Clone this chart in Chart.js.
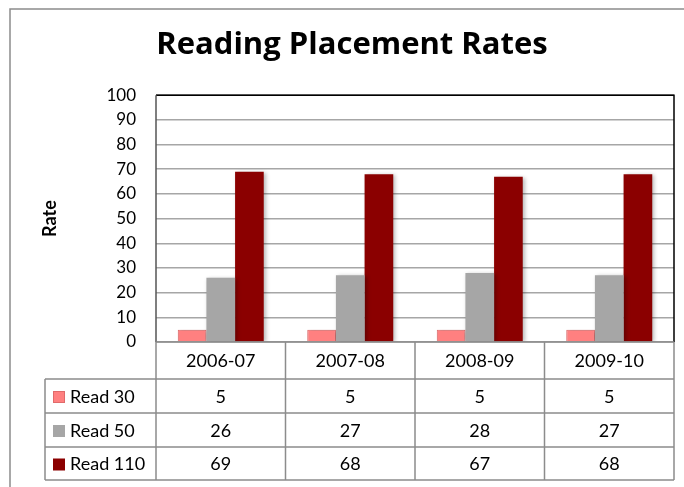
<!DOCTYPE html>
<html>
<head>
<meta charset="utf-8">
<script src="https://cdn.jsdelivr.net/npm/chart.js@4.4.0/dist/chart.umd.min.js"></script>
<style>
  html, body { margin: 0; padding: 0; background: #fff; }
  #wrap { width: 684px; height: 487px; position: relative; }
</style>
</head>
<body>
<div id="wrap"><canvas id="chart" width="684" height="487"></canvas></div>
<script>
// Data
const years = ['2006-07', '2007-08', '2008-09', '2009-10'];
const read30 = [5, 5, 5, 5];
const read50 = [26, 27, 28, 27];
const read110 = [69, 68, 67, 68];
const seriesNames = ['Read 30', 'Read 50', 'Read 110'];
const yTicks = [0, 10, 20, 30, 40, 50, 60, 70, 80, 90, 100];

const FONT = 'Lato, "Open Sans", sans-serif';
const fills = ['#FF8080', '#A6A6A6', '#8B0000'];
const borders = ['#E06A6A', '#A6A6A6', '#8B0000'];
const tableBottom = 480;   // bottom of the data table
const legendLeft = 45;     // left edge of the series-name column

// Outer chart frame + white background
const framePlugin = {
  id: 'frame',
  beforeDraw(chart) {
    const ctx = chart.ctx;
    ctx.save();
    ctx.fillStyle = '#fff';
    ctx.fillRect(0, 0, chart.width, chart.height);
    ctx.strokeStyle = '#8C8C8C';
    ctx.lineWidth = 1.5;
    ctx.strokeRect(10, 9, 800, 600);
    ctx.restore();
  }
};

// Soft shadow under the bars, like the Excel original
const shadowPlugin = {
  id: 'barShadow',
  beforeDatasetsDraw(chart) {
    const ctx = chart.ctx;
    ctx.save();
    ctx.shadowColor = 'rgba(0,0,0,0.28)';
    ctx.shadowBlur = 4;
    ctx.shadowOffsetX = 2;
    ctx.shadowOffsetY = 1;
  },
  afterDatasetsDraw(chart) {
    chart.ctx.restore();
  }
};

// Plot border and data table underneath the plot
const tablePlugin = {
  id: 'dataTable',
  afterDraw(chart) {
    const ctx = chart.ctx;
    const area = chart.chartArea;
    const x = chart.scales.x;
    const half = (x.getPixelForValue(1) - x.getPixelForValue(0)) / 2;
    const rowTops = [area.bottom, 379, 413, 447, tableBottom];

    ctx.save();
    // black top / right edges of the plot area
    ctx.strokeStyle = '#000';
    ctx.lineWidth = 1.5;
    ctx.beginPath();
    ctx.moveTo(area.left, area.top);
    ctx.lineTo(area.right, area.top);
    ctx.lineTo(area.right, area.bottom);
    ctx.stroke();
    ctx.strokeStyle = '#555';
    ctx.beginPath();
    ctx.moveTo(area.left, area.top);
    ctx.lineTo(area.left, area.bottom);
    ctx.stroke();

    // table grid
    ctx.strokeStyle = '#8C8C8C';
    ctx.lineWidth = 1.5;
    ctx.beginPath();
    ctx.moveTo(area.left, area.bottom);
    ctx.lineTo(area.right, area.bottom);
    for (let r = 1; r < rowTops.length; r++) {
      ctx.moveTo(legendLeft, rowTops[r]);
      ctx.lineTo(area.right, rowTops[r]);
    }
    ctx.moveTo(legendLeft, rowTops[1]);
    ctx.lineTo(legendLeft, tableBottom);
    for (let i = 0; i <= years.length; i++) {
      const bx = i < years.length ? x.getPixelForValue(i) - half : x.getPixelForValue(years.length - 1) + half;
      ctx.moveTo(bx, area.bottom);
      ctx.lineTo(bx, tableBottom);
    }
    ctx.stroke();

    // header row: category labels
    ctx.fillStyle = '#000';
    ctx.font = '18px ' + FONT;
    ctx.textAlign = 'center';
    ctx.textBaseline = 'middle';
    years.forEach((y, i) => {
      ctx.fillText(y, x.getPixelForValue(i), (rowTops[0] + rowTops[1]) / 2 + 1);
    });

    // series rows
    chart.data.datasets.forEach((ds, s) => {
      const cy = (rowTops[s + 1] + rowTops[s + 2]) / 2 + 1;
      // legend key
      ctx.fillStyle = fills[s];
      ctx.fillRect(legendLeft + 8, cy - 6, 12, 12);
      if (s === 0) {
        ctx.strokeStyle = borders[0];
        ctx.lineWidth = 1;
        ctx.strokeRect(legendLeft + 8.5, cy - 5.5, 11, 11);
      }
      ctx.fillStyle = '#000';
      ctx.textAlign = 'left';
      ctx.fillText(ds.label, legendLeft + 25, cy);
      ctx.textAlign = 'center';
      ds.data.forEach((v, i) => {
        ctx.fillText(String(v), x.getPixelForValue(i), cy);
      });
    });
    ctx.restore();
  }
};

const seriesData = [read30, read50, read110];

new Chart(document.getElementById('chart'), {
  type: 'bar',
  data: {
    labels: years,
    datasets: seriesNames.map((name, s) => ({
      label: name,
      data: seriesData[s],
      backgroundColor: fills[s],
      borderColor: borders[s],
      borderWidth: s === 0 ? 1 : 0,
      categoryPercentage: 0.664,
      barPercentage: 1.0
    }))
  },
  options: {
    responsive: false,
    animation: false,
    layout: { padding: { left: 30, right: 10, top: 0, bottom: 145 } },
    plugins: {
      legend: { display: false },
      tooltip: { enabled: false },
      title: {
        display: true,
        text: 'Reading Placement Rates',
        color: '#000',
        font: { family: '"Open Sans", Lato, sans-serif', size: 31, weight: 'bold' },
        padding: { top: 27, bottom: 31 }
      }
    },
    scales: {
      x: { display: false },
      y: {
        min: 0,
        max: 100,
        afterBuildTicks(scale) {
          scale.ticks = yTicks.map(v => ({ value: v }));
        },
        afterFit(scale) { scale.width = 126; },
        border: { display: false },
        grid: {
          color: '#A6A6A6',
          lineWidth: 1.5,
          drawTicks: false
        },
        ticks: {
          color: '#000',
          padding: 20,
          font: { family: FONT, size: 17 }
        },
        title: {
          display: true,
          text: 'Rate',
          color: '#000',
          font: { family: FONT, size: 18, weight: 'bold' },
          padding: { top: 9, bottom: 0 }
        }
      }
    }
  },
  plugins: [framePlugin, shadowPlugin, tablePlugin]
});
</script>
</body>
</html>
